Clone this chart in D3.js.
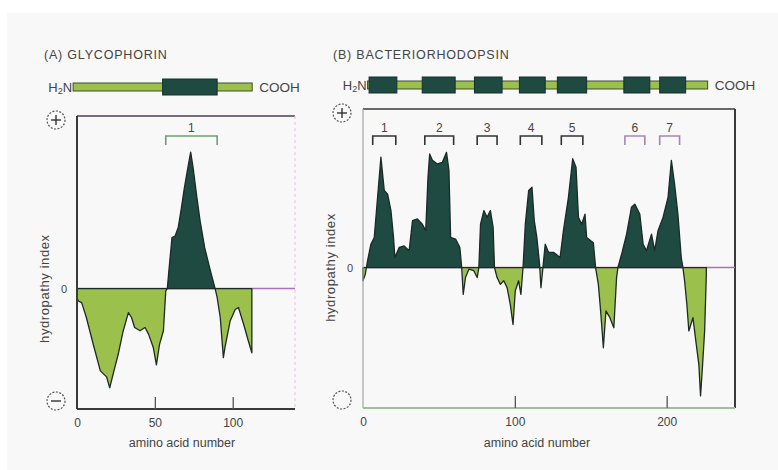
<!DOCTYPE html>
<html>
<head>
<meta charset="utf-8">
<script src="https://cdnjs.cloudflare.com/ajax/libs/d3/7.8.5/d3.min.js"></script>
<style>
body { margin: 0; background: #ffffff; }
text { font-family: "Liberation Sans", Arial, sans-serif; fill: #444; }
</style>
</head>
<body>
<svg></svg>
<script>
var WIDTH = 778;
var HEIGHT = 470;
var DARK = "#1f4a41";
var LIGHT = "#9cc04c";

// hydropathy profiles: [amino acid number, hydropathy index]
var glycophorinProfile = [
    [0, -0.25], [1, -0.31], [3, -0.35], [6, -0.72], [10.5, -1.4], [15, -2.05], [19, -2.2],
    [21, -2.47], [23.4, -2.1], [26.5, -1.63], [29.7, -1.05], [33, -0.6], [35, -0.72],
    [37, -0.97], [40.5, -1.05], [43.7, -0.97], [46, -1.14], [49, -1.47], [51, -1.9],
    [53, -1.39], [55.5, -1.05], [57, -0.06], [58, 0], [59, 0.44], [61, 1.27], [63, 1.31],
    [65, 1.52], [67, 2.0], [69, 2.52], [71.6, 3.1], [73, 3.4], [74.6, 3.0], [77, 2.27],
    [79, 1.7], [82, 1.02], [85.7, 0.44], [88.7, 0], [90, -0.22], [92, -0.72], [94, -1.72],
    [95, -1.47], [98.4, -0.8], [101.6, -0.52], [103.7, -0.47], [107, -0.89], [110, -1.3],
    [112.3, -1.6]
];

var bacteriorhodopsinProfile = [
    [0, -0.33], [1.5, -0.17], [3, 0.17], [5.2, 0.58], [7.4, 0.75], [9.6, 1.75], [11.8, 2.75],
    [14, 1.92], [16.2, 1.83], [18.4, 1.42], [20.1, 0.75], [21, 0.25], [21.9, 0.33], [23.8, 0.5],
    [27.1, 0.54], [30.4, 0.42], [32.6, 1.17], [35.8, 1.21], [39.1, 1.08], [41.3, 0.92],
    [42.8, 2.25], [43.9, 2.83], [45.7, 2.67], [49, 2.58], [52.2, 2.62], [55, 2.87], [56.6, 2.42],
    [57.7, 0.75], [61, 0.71], [63.8, 0.5], [65, 0], [66, -0.67], [67.5, -0.25], [69.7, -0.04],
    [73, -0.08], [75.2, -0.25], [76.3, 0], [77.4, 1.08], [79.6, 1.42], [81.7, 1.25], [83.9, 1.42],
    [85.7, 1.0], [86.6, 0], [88.3, -0.25], [90.5, -0.42], [92.7, -0.33], [94.9, -0.5],
    [97, -0.92], [98.8, -1.42], [100.3, -0.58], [102.5, -0.33], [104, -0.67], [105.4, 0],
    [106.9, 1.08], [109.1, 1.92], [111.3, 2.0], [112.8, 1.17], [114.5, 0.75], [116.3, 0.08],
    [117.2, -0.5], [118.5, 0], [120, 0.58], [122.2, 0.38], [125.5, 0.38], [129.8, 0.25],
    [132, 0.92], [135.3, 1.75], [138.1, 2.71], [140.3, 2.5], [141.9, 1.25], [144, 1.08],
    [146.2, 1.33], [147.3, 0.75], [151.7, 0.62], [153.2, 0], [155, -0.42], [156.5, -1.08],
    [158.3, -2.0], [160, -1.08], [162.6, -1.25], [165.2, -1.5], [167, -0.25], [167.9, 0],
    [170.3, 0.33], [173.6, 0.83], [176.8, 1.5], [179, 1.58], [182.3, 1.33], [184.5, 0.58],
    [186.7, 0.42], [190, 0.83], [192.1, 0.42], [194.3, 0.92], [197.6, 1.25], [200.9, 1.75],
    [203.1, 2.67], [205.2, 2.08], [207.4, 1.33], [209.6, 0.25], [210.7, 0], [211.8, -0.33],
    [213.3, -0.92], [214.6, -1.58], [217.3, -1.25], [219.5, -1.92], [221.2, -2.42],
    [222.3, -3.2], [223.4, -2.58], [225, -1.58], [226.1, -0.2]
];

// membrane spanning segments (start, end residue) and the chain extent
var glycophorinChain = [-2.5, 112.5];
var glycophorinSegments = [[55, 90]];
var bacterioChain = [3, 227];
var bacterioSegments = [[4, 22.3], [39, 60.7], [73.4, 91.6], [103, 120], [128, 147.3], [171.8, 188.9], [195.4, 212.5]];

// bracket labels over the hydrophobic peaks
var glycophorinBrackets = [[57, 90]];
var glycophorinBracketLabels = ["1"];
var bacterioBrackets = [[6.4, 21.6], [40.7, 59.7], [75.2, 88.3], [103.6, 117.8], [130.6, 144.8], [172.5, 185.6], [195.4, 208.5]];
var bacterioBracketLabels = ["1", "2", "3", "4", "5", "6", "7"];

var glycophorinTicks = [0, 50, 100];
var bacterioTicks = [0, 100, 200];

var svg = d3.select("svg")
    .attr("width", WIDTH)
    .attr("height", HEIGHT);

svg.append("rect")
    .attr("x", 7).attr("y", 13)
    .attr("width", WIDTH - 7).attr("height", HEIGHT - 13)
    .attr("fill", "#f8f8f8");

var defs = svg.append("defs");

function drawPanel(p) {
    var x = d3.scaleLinear().domain(p.xDomain).range([p.left, p.right]);
    var y = d3.scaleLinear().domain(p.yDomain).range([p.bottom, p.top]);
    var g = svg.append("g");

    // title
    g.append("text")
        .attr("x", p.titleX).attr("y", 59)
        .attr("font-size", 12.5)
        .attr("letter-spacing", 0.8)
        .attr("fill", "#555")
        .text(p.title);

    // protein chain bar
    var barY = p.barY;
    g.append("rect")
        .attr("x", x(p.chain[0])).attr("y", barY - 4)
        .attr("width", x(p.chain[1]) - x(p.chain[0])).attr("height", 8)
        .attr("fill", LIGHT).attr("stroke", "#3d4d33").attr("stroke-width", 1);
    g.selectAll(".seg")
        .data(p.segments)
        .enter()
        .append("rect")
        .attr("x", function(d) { return x(d[0]); })
        .attr("y", barY - 8)
        .attr("width", function(d) { return x(d[1]) - x(d[0]); })
        .attr("height", 16)
        .attr("fill", DARK).attr("stroke", "#15302a").attr("stroke-width", 1);
    g.append("text")
        .attr("x", x(p.chain[0]) - 1).attr("y", barY + 5)
        .attr("text-anchor", "end").attr("font-size", 13).attr("fill", "#444")
        .html("H<tspan font-size='9' dy='2'>2</tspan><tspan dy='-2'>N</tspan>");
    g.append("text")
        .attr("x", x(p.chain[1]) + 7).attr("y", barY + 5)
        .attr("font-size", 13.5).attr("fill", "#444")
        .text("COOH");

    // frame
    g.append("line")
        .attr("x1", p.left).attr("x2", p.right).attr("y1", p.top).attr("y2", p.top)
        .attr("stroke", p.topColor).attr("stroke-width", 1.6);
    g.append("line")
        .attr("x1", p.right).attr("x2", p.right).attr("y1", p.top).attr("y2", p.bottom)
        .attr("stroke", p.rightColor).attr("stroke-width", p.rightWidth)
        .attr("stroke-dasharray", p.rightDash);
    g.append("line")
        .attr("x1", p.left).attr("x2", p.right).attr("y1", y(0)).attr("y2", y(0))
        .attr("stroke", "#a872b4").attr("stroke-width", 1.5);

    // profile, dark above zero and light below
    var area = d3.area()
        .x(function(d) { return x(d[0]); })
        .y0(y(0))
        .y1(function(d) { return y(d[1]); });
    var id = p.id;
    defs.append("clipPath").attr("id", id + "up")
        .append("rect").attr("x", p.left).attr("y", p.top)
        .attr("width", p.right - p.left).attr("height", y(0) - p.top);
    defs.append("clipPath").attr("id", id + "down")
        .append("rect").attr("x", p.left).attr("y", y(0))
        .attr("width", p.right - p.left).attr("height", p.bottom - y(0));
    g.append("path").datum(p.profile)
        .attr("d", area).attr("fill", DARK)
        .attr("clip-path", "url(#" + id + "up)");
    g.append("path").datum(p.profile)
        .attr("d", area).attr("fill", LIGHT)
        .attr("clip-path", "url(#" + id + "down)");
    g.append("path").datum(p.profile)
        .attr("d", area).attr("fill", "none")
        .attr("stroke", "#1c2a26").attr("stroke-width", 1.3)
        .attr("stroke-linejoin", "round");

    // left and bottom axes
    g.append("line")
        .attr("x1", p.left).attr("x2", p.left).attr("y1", p.top).attr("y2", p.bottom)
        .attr("stroke", p.leftColor).attr("stroke-width", p.leftWidth);
    g.append("line")
        .attr("x1", p.left).attr("x2", p.right).attr("y1", p.bottom).attr("y2", p.bottom)
        .attr("stroke", p.bottomColor).attr("stroke-width", 2);

    var xAxis = d3.axisBottom(x)
        .tickValues(p.ticks)
        .tickSize(-12)
        .tickPadding(9)
        .tickFormat(d3.format("d"));
    var ax = g.append("g")
        .attr("transform", "translate(0," + p.bottom + ")")
        .call(xAxis);
    ax.select(".domain").remove();
    ax.selectAll(".tick line").attr("stroke", "#555").attr("stroke-width", 1.3)
        .filter(function(d) { return d === 0; }).remove();
    ax.selectAll(".tick text")
        .attr("font-size", 12).attr("fill", "#444")
        .attr("font-family", "Liberation Sans, Arial, sans-serif");

    g.append("text")
        .attr("x", p.xLabelX).attr("y", 447)
        .attr("text-anchor", "middle").attr("font-size", 12.5).attr("fill", "#555")
        .text("amino acid number");

    g.append("text")
        .attr("transform", "translate(" + (p.left - 28) + "," + y(0) + ") rotate(-90)")
        .attr("text-anchor", "middle").attr("font-size", 13)
        .attr("letter-spacing", 0.6)
        .attr("fill", p.yLabelColor)
        .text("hydropathy index");
    g.append("text")
        .attr("x", p.left - 13).attr("y", y(0) + 4)
        .attr("text-anchor", "middle").attr("font-size", 11).attr("fill", "#444")
        .text("0");

    // plus / minus circles
    var cx = p.left - 21;
    [[p.top + 4, "+"], [p.bottom - 8, "-"]].forEach(function(c) {
        g.append("circle")
            .attr("cx", cx).attr("cy", c[0]).attr("r", 9)
            .attr("fill", "none").attr("stroke", "#555").attr("stroke-width", 1.2)
            .attr("stroke-dasharray", "2,1.5");
        if (c[1] === "+" || p.showMinus) {
            g.append("line")
                .attr("x1", cx - 5).attr("x2", cx + 5).attr("y1", c[0]).attr("y2", c[0])
                .attr("stroke", "#333").attr("stroke-width", 1.4);
        }
        if (c[1] === "+") {
            g.append("line")
                .attr("x1", cx).attr("x2", cx).attr("y1", c[0] - 5).attr("y2", c[0] + 5)
                .attr("stroke", "#333").attr("stroke-width", 1.4);
        }
    });

    // brackets
    var br = g.selectAll(".br")
        .data(p.brackets)
        .enter()
        .append("g");
    br.append("path")
        .attr("d", function(d) {
            return "M" + x(d[0]) + ",145V136H" + x(d[1]) + "V145";
        })
        .attr("fill", "none")
        .attr("stroke", function(d, i) { return p.bracketColor(i); })
        .attr("stroke-width", 1.6);
    br.append("text")
        .attr("x", function(d) { return (x(d[0]) + x(d[1])) / 2; })
        .attr("y", 132)
        .attr("text-anchor", "middle").attr("font-size", 12)
        .attr("fill", function(d, i) { return p.labelColor(i); })
        .text(function(d, i) { return p.bracketLabels[i]; });
}

drawPanel({
    id: "a", title: "(A) GLYCOPHORIN", titleX: 44,
    xDomain: [0, 140], yDomain: [-3.0, 4.3],
    left: 77, right: 295, top: 116, bottom: 409, barY: 87,
    profile: glycophorinProfile, chain: glycophorinChain, segments: glycophorinSegments,
    brackets: glycophorinBrackets, bracketLabels: glycophorinBracketLabels,
    bracketColor: function() { return "#6f9f6f"; },
    labelColor: function() { return "#3f9a45"; },
    ticks: glycophorinTicks, xLabelX: 182,
    topColor: "#4d3f55", rightColor: "#e3cbe0", rightWidth: 1.2, rightDash: "3,3",
    leftColor: "#3a3a3a", leftWidth: 2, bottomColor: "#3a3a3a",
    yLabelColor: "#8c6a98", showMinus: true
});

drawPanel({
    id: "b", title: "(B) BACTERIORHODOPSIN", titleX: 333,
    xDomain: [0, 245], yDomain: [-3.5, 3.95],
    left: 363, right: 735, top: 109, bottom: 408, barY: 85,
    profile: bacteriorhodopsinProfile, chain: bacterioChain, segments: bacterioSegments,
    brackets: bacterioBrackets, bracketLabels: bacterioBracketLabels,
    bracketColor: function(i) { return i < 5 ? "#333" : "#a585b8"; },
    labelColor: function(i) { return i < 5 ? "#3f9a45" : "#9a72ac"; },
    ticks: bacterioTicks, xLabelX: 537,
    topColor: "#3a3a3a", rightColor: "#3a3a3a", rightWidth: 2, rightDash: null,
    leftColor: "#a0a8a0", leftWidth: 1.2, bottomColor: "#9fc09a",
    yLabelColor: "#6d6d6d", showMinus: false
});
</script>
</body>
</html>
